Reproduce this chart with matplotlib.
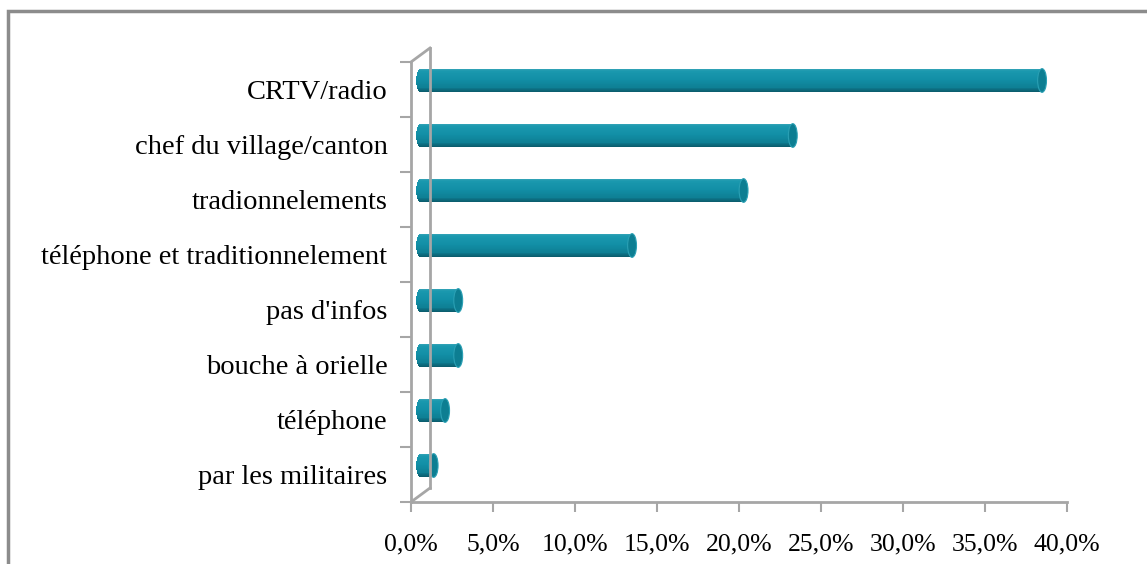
import numpy as np
import matplotlib
matplotlib.use('Agg')
import matplotlib.pyplot as plt
import matplotlib.transforms as mtransforms
from matplotlib.patches import Ellipse, Rectangle
from matplotlib.lines import Line2D
from matplotlib.colors import LinearSegmentedColormap
from matplotlib.ticker import FuncFormatter

# data (percent), top to bottom
categories = ['CRTV/radio', 'chef du village/canton', 'tradionnelements',
              'téléphone et traditionnelement', "pas d'infos",
              'bouche à orielle', 'téléphone', 'par les militaires']
values = [37.9, 22.7, 19.7, 12.9, 2.3, 2.3, 1.5, 0.8]
xticks = [0, 5, 10, 15, 20, 25, 30, 35, 40]

plt.rcParams['font.family'] = ['Liberation Serif', 'DejaVu Serif']

W, H = 1147, 564
fig = plt.figure(figsize=(W / 100, H / 100), dpi=100)

# axes: front plane from x=411..1067 px, y=62..502 px
ax = fig.add_axes([411 / W, (H - 502) / H, 656 / W, 440 / H])
n = len(categories)
ax.set_xlim(0, 40)
ax.set_ylim(0, n)
ax.patch.set_alpha(0)

# depth offset (half of the 3D wall depth)
depth = mtransforms.ScaledTranslation(9.5 / 100, 9.0 / 100, fig.dpi_scale_trans)
tr = ax.transData + depth

shade = LinearSegmentedColormap.from_list(
    'cyl', [(0.0, '#3fa9bb'), (0.1, '#1a98ae'), (0.45, '#128fa6'),
            (0.8, '#0e7f94'), (1.0, '#0a5463')])

bar_h = 0.43
rx = 0.27          # half width of end caps in data units
nstripe = 30
ycent = n - 0.5 - np.arange(n)
for yc, v in zip(ycent, values):
    for i in range(nstripe):
        t0 = i / nstripe
        t1 = (i + 1) / nstripe
        tm = (t0 + t1) / 2
        yy = yc + bar_h / 2 - tm * bar_h
        s = np.sqrt(max(0.0, 1 - (2 * tm - 1) ** 2))
        left = -rx * s
        b = ax.barh(yy, v - left, left=left, height=bar_h / nstripe * 1.05,
                    color=shade(tm), linewidth=0)
        for p in b:
            p.set_transform(tr)
    cap = Ellipse((v, yc), 2 * rx, bar_h, facecolor='#0d7e92',
                  edgecolor='#2aa0b4', linewidth=0.8, transform=tr)
    ax.add_patch(cap)

# axes styling
gray = '#a6a6a6'
for s in ['top', 'right']:
    ax.spines[s].set_visible(False)
for s in ['left', 'bottom']:
    ax.spines[s].set_color(gray)
    ax.spines[s].set_linewidth(2)

ax.set_yticks(np.arange(n + 1))
ax.set_yticklabels([])
ax.set_yticks(ycent, minor=True)
ax.set_yticklabels(categories, minor=True, fontsize=20.5)
ax.tick_params(axis='y', which='major', length=8, width=1.5, color=gray, direction='out')
ax.tick_params(axis='y', which='minor', length=0, pad=17)

ax.set_xticks(xticks)
ax.xaxis.set_major_formatter(FuncFormatter(lambda v, p: f'{v:.1f}%'.replace('.', ',')))
ax.tick_params(axis='x', length=7, width=1.5, color=gray, labelsize=18.5, pad=16)

# back wall
back = mtransforms.ScaledTranslation(19 / 100, 14 / 100, fig.dpi_scale_trans)
trb = ax.transData + back
ln = Line2D([0, 0], [0, n], transform=trb, color=gray, linewidth=2)
ln.set_clip_on(False)
ax.add_line(ln)
# diagonals connecting front and back corners
f0 = ax.transData.transform((0, 0))
f1 = ax.transData.transform((0, n))
for f in (f0, f1):
    ln = Line2D([f[0], f[0] + 19], [f[1], f[1] + 14], transform=None,
                color=gray, linewidth=2)
    ln.set_clip_on(False)
    fig.add_artist(ln)

# outer border
fig.add_artist(Rectangle((8 / W, -0.05), 1.1, 1.05 - 11 / H, transform=fig.transFigure,
                         fill=False, edgecolor='#8c8c8c', linewidth=2.5))

fig.savefig('out.png', dpi=100)
